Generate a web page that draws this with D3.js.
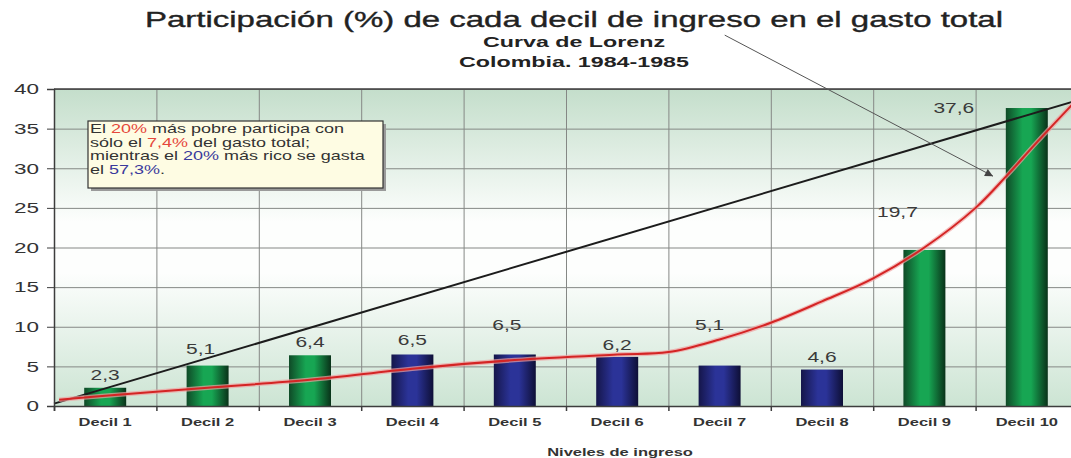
<!DOCTYPE html>
<html>
<head>
<meta charset="utf-8">
<script src="https://cdn.jsdelivr.net/npm/d3@7"></script>
<style>
  body { margin: 0; background: #fff; }
  svg { display: block; }
  text { font-family: "Liberation Sans", Arial, sans-serif; }
</style>
</head>
<body>
<svg id="chart"></svg>
<script>
// data
const deciles = ['Decil 1', 'Decil 2', 'Decil 3', 'Decil 4', 'Decil 5', 'Decil 6', 'Decil 7', 'Decil 8', 'Decil 9', 'Decil 10'];
const shares = [2.3, 5.1, 6.4, 6.5, 6.5, 6.2, 5.1, 4.6, 19.7, 37.6];
const barGroup = ['g', 'g', 'g', 'b', 'b', 'b', 'b', 'b', 'g', 'g'];
const yTicks = [0, 5, 10, 15, 20, 25, 30, 35, 40];

// lorenz curve (red) and equality line (black), x in deciles 0..10
const lorenzX = [0.05, 0.5, 1.5, 2.5, 3.5, 4.5, 5.5, 6.0, 6.5, 7.0, 7.5, 8.0, 8.5, 9.0, 9.3, 9.6, 10];
const lorenzY = [0.8, 1.3, 2.3, 3.3, 4.7, 5.8, 6.5, 6.8, 8.4, 10.5, 13.2, 16.1, 20.0, 25.0, 29.0, 33.3, 38.8];
const equalityX = [0, 10];
const equalityY = [0.3, 38.6];

// arrow from the subtitle to the curve (data units)
const arrowFrom = [6.55, 46.8];
const arrowTo = [9.17, 29.0];

const titleLines = ['Participación (%) de cada decil de ingreso en el gasto total', 'Curva de Lorenz', 'Colombia. 1984-1985'];
const xTitle = 'Niveles de ingreso';
const noteLines = [
  [['El ', ''], ['20%', 'r'], [' más pobre participa con', '']],
  [['sólo el ', ''], ['7,4%', 'r'], [' del gasto total;', '']],
  [['mientras el ', ''], ['20%', 'b'], [' más rico se gasta', '']],
  [['el ', ''], ['57,3%', 'b'], ['.', '']]
];

// label nudges in px (the original places them unevenly)
const labelDx = [0, -7, 0, 0, -8, 0, -10, 0, -27, -73];
const labelDy = [-8, -12, -8, -9, -24, -7, -36, -8, -33, 5];

const W = 1071, H = 458;
const SX = 1.5; // the source picture is stretched sideways
const pLeft = 54, pRight = 1078, pTop = 89, pBottom = 406;

const svg = d3.select('#chart').attr('width', W).attr('height', H);
const defs = svg.append('defs');

const bg = defs.append('linearGradient').attr('id', 'bg').attr('x1', 0).attr('y1', 0).attr('x2', 0).attr('y2', 1);
bg.append('stop').attr('offset', '0%').attr('stop-color', '#c4decb');
bg.append('stop').attr('offset', '42%').attr('stop-color', '#fdfefd');
bg.append('stop').attr('offset', '58%').attr('stop-color', '#fdfefd');
bg.append('stop').attr('offset', '100%').attr('stop-color', '#cce4d3');

function barGrad(id, edgeL, mid, edgeR) {
  const g = defs.append('linearGradient').attr('id', id).attr('x1', 0).attr('y1', 0).attr('x2', 1).attr('y2', 0);
  g.append('stop').attr('offset', '0%').attr('stop-color', edgeL);
  g.append('stop').attr('offset', '40%').attr('stop-color', mid);
  g.append('stop').attr('offset', '60%').attr('stop-color', mid);
  g.append('stop').attr('offset', '100%').attr('stop-color', edgeR);
}
barGrad('gG', '#0f4a27', '#17a653', '#093219');
barGrad('gB', '#15164a', '#2b3398', '#0e0f36');

defs.append('marker').attr('id', 'arr').attr('viewBox', '0 0 10 10')
  .attr('refX', 10).attr('refY', 5).attr('markerWidth', 11).attr('markerHeight', 8)
  .attr('markerUnits', 'userSpaceOnUse').attr('orient', 'auto')
  .append('path').attr('d', 'M0,0L10,5L0,10Z').attr('fill', '#444');

const x = d3.scaleBand().domain(deciles).range([pLeft, pRight]).paddingInner(0.59).paddingOuter(0.295);
const xLin = d3.scaleLinear().domain([0, 10]).range([pLeft, pRight]);
const y = d3.scaleLinear().domain([0, 40]).range([pBottom, pTop]);

// plot background
svg.append('rect').attr('x', pLeft).attr('y', pTop).attr('width', pRight - pLeft).attr('height', pBottom - pTop)
  .attr('fill', 'url(#bg)');

// grid
svg.append('g').attr('transform', `translate(${pLeft},0)`)
  .call(d3.axisLeft(y).tickValues(yTicks).tickSize(-(pRight - pLeft)).tickFormat(''))
  .call(g => g.select('.domain').remove())
  .call(g => g.selectAll('line').attr('stroke', '#858885').attr('stroke-width', 1));
svg.append('g').attr('transform', `translate(0,${pTop})`)
  .call(d3.axisBottom(xLin).tickValues(d3.range(1, 11)).tickSize(pBottom - pTop).tickFormat(''))
  .call(g => g.select('.domain').remove())
  .call(g => g.selectAll('line').attr('stroke', '#858885').attr('stroke-width', 1));
svg.append('line').attr('x1', pLeft).attr('x2', pRight).attr('y1', y(40)).attr('y2', y(40))
  .attr('stroke', '#3d3d3d').attr('stroke-width', 1.5);

// bars
svg.append('g').selectAll('rect').data(shares).join('rect')
  .attr('x', (d, i) => x(deciles[i]))
  .attr('y', d => y(d))
  .attr('width', x.bandwidth())
  .attr('height', d => y(0) - y(d))
  .attr('fill', (d, i) => barGroup[i] === 'g' ? 'url(#gG)' : 'url(#gB)');

// equality line
const line = d3.line().x(d => xLin(d[0])).y(d => y(d[1]));
svg.append('path').datum(equalityX.map((v, i) => [v, equalityY[i]]))
  .attr('d', line).attr('fill', 'none').attr('stroke', '#1c1c1c').attr('stroke-width', 2);

// lorenz curve
const curve = d3.line().curve(d3.curveCatmullRom).x(d => xLin(d[0])).y(d => y(d[1]));
const lorenz = lorenzX.map((v, i) => [v, lorenzY[i]]);
svg.append('path').datum(lorenz).attr('d', curve).attr('fill', 'none')
  .attr('stroke', '#f0a0a0').attr('stroke-width', 4.5).attr('opacity', 0.7);
svg.append('path').datum(lorenz).attr('d', curve).attr('fill', 'none')
  .attr('stroke', '#d42424').attr('stroke-width', 2);

// axes
const yAxis = svg.append('g').attr('transform', `translate(${pLeft},0)`)
  .call(d3.axisLeft(y).tickValues(yTicks).tickSize(7).tickPadding(0));
yAxis.select('.domain').attr('stroke', '#3d3d3d').attr('stroke-width', 1.5);
yAxis.selectAll('line').attr('stroke', '#3d3d3d');
yAxis.selectAll('text').attr('x', -15 / SX).attr('transform', `scale(${SX},1)`)
  .attr('fill', '#333').style('font-size', '15px');

const xTicks = svg.append('g').attr('transform', `translate(0,${pBottom})`)
  .call(d3.axisBottom(xLin).tickValues(d3.range(0, 11)).tickSize(5).tickFormat(''));
xTicks.select('.domain').attr('stroke', '#3d3d3d').attr('stroke-width', 1.5);
xTicks.selectAll('line').attr('stroke', '#3d3d3d').attr('stroke-width', 1.5);

const xAxis = svg.append('g').attr('transform', `translate(0,${pBottom})`)
  .call(d3.axisBottom(x).tickSize(0).tickPadding(12));
xAxis.select('.domain').remove();
xAxis.selectAll('.tick text').attr('transform', `scale(${SX},1)`)
  .attr('fill', '#333').style('font-size', '11px').style('font-weight', 'bold');

// value labels
const fmt = v => v.toFixed(1).replace('.', ',');
svg.append('g').selectAll('text').data(shares).join('text')
  .attr('transform', (d, i) => `translate(${x(deciles[i]) + x.bandwidth() / 2 + labelDx[i]},${y(d) + labelDy[i]}) scale(${SX},1)`)
  .attr('text-anchor', 'middle').attr('fill', '#3a3a3a').style('font-size', '14px')
  .text(d => fmt(d));

// titles
const titleY = [27, 47, 67];
const titleSize = [22, 15.5, 15.5];
svg.append('g').selectAll('text').data(titleLines).join('text')
  .attr('transform', (d, i) => `translate(574,${titleY[i]}) scale(${SX},1)`)
  .attr('text-anchor', 'middle').attr('fill', '#222')
  .attr('stroke', (d, i) => i === 0 ? '#222' : 'none').attr('stroke-width', 0.35)
  .style('font-size', (d, i) => titleSize[i] + 'px')
  .style('font-weight', (d, i) => i === 0 ? 'normal' : 'bold')
  .text(d => d);

svg.append('text').attr('transform', `translate(620,456) scale(${SX},1)`)
  .attr('text-anchor', 'middle').attr('fill', '#333')
  .style('font-size', '11px').style('font-weight', 'bold').text(xTitle);

// arrow
svg.append('line')
  .attr('x1', xLin(arrowFrom[0])).attr('y1', y(arrowFrom[1]))
  .attr('x2', xLin(arrowTo[0])).attr('y2', y(arrowTo[1]))
  .attr('stroke', '#555').attr('stroke-width', 1).attr('marker-end', 'url(#arr)');

// note box
const note = svg.append('g').attr('transform', 'translate(88,121)');
note.append('rect').attr('x', 3).attr('y', 3).attr('width', 295).attr('height', 67).attr('fill', '#9a9a9a');
note.append('rect').attr('width', 295).attr('height', 67).attr('fill', '#fefce3')
  .attr('stroke', '#333').attr('stroke-width', 1.2);
const noteColor = { '': '#333', r: '#e5483c', b: '#3a3a9c' };
noteLines.forEach((parts, i) => {
  const t = note.append('text').attr('transform', `translate(2,${12 + i * 13.5}) scale(${SX},1)`)
    .style('font-size', '12px');
  parts.forEach(p => t.append('tspan').attr('fill', noteColor[p[1]]).text(p[0]));
});
</script>
</body>
</html>
